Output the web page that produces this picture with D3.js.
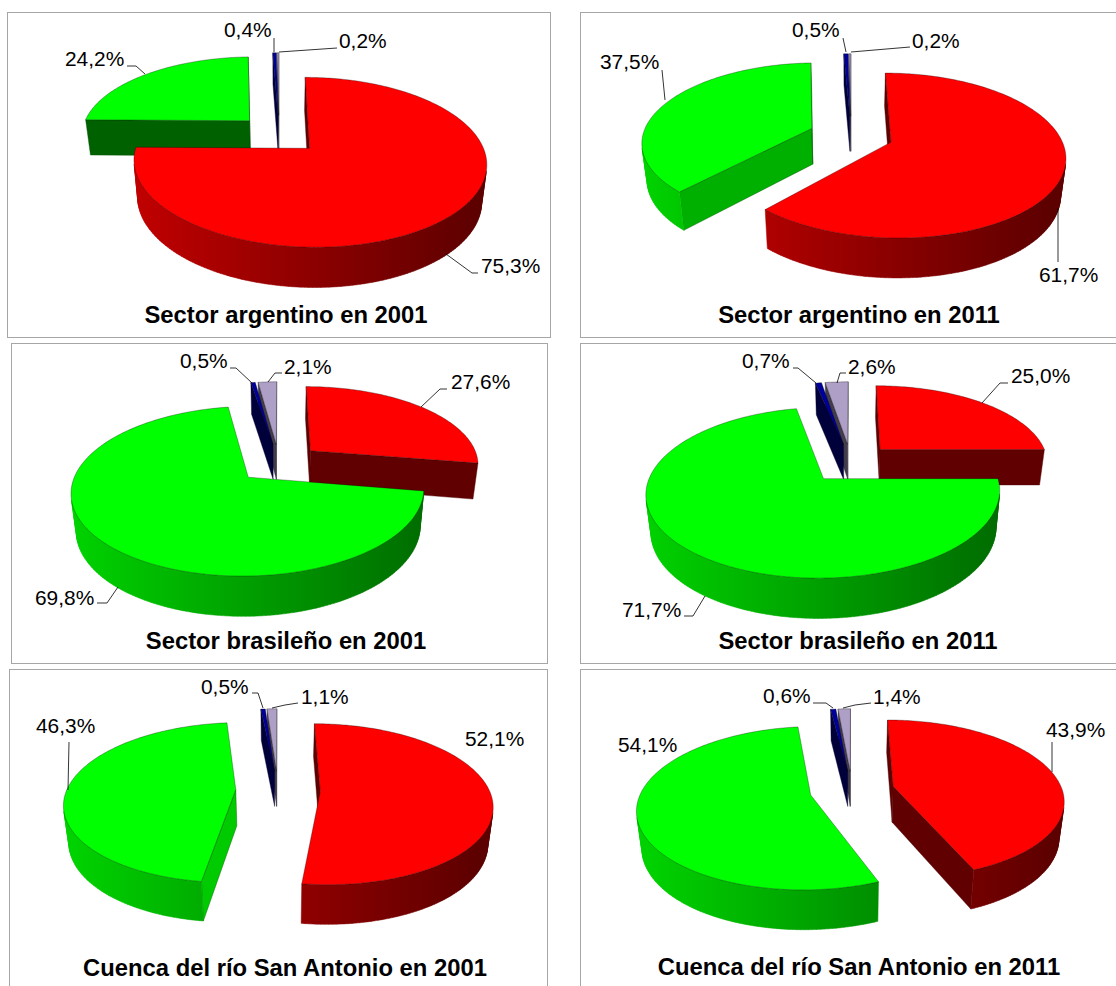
<!DOCTYPE html>
<html lang="es">
<head>
<meta charset="utf-8">
<title>Sectores argentino y brasileño, 2001 y 2011</title>
<script src="https://cdn.jsdelivr.net/npm/d3@7/dist/d3.min.js"></script>
<style>
  html, body { margin: 0; padding: 0; background: #fff; overflow: hidden; }
  text { font-family: "Liberation Sans", Arial, sans-serif; fill: #000; }
</style>
</head>
<body>
<svg id="chart" width="1116" height="986"></svg>
<script>
// Share of each category per territory and year, in percent.
const panelTitles = [
  "Sector argentino en 2001", "Sector argentino en 2011",
  "Sector brasileño en 2001", "Sector brasileño en 2011",
  "Cuenca del río San Antonio en 2001", "Cuenca del río San Antonio en 2011"
];
const redValues      = [75.3, 61.7, 27.6, 25.0, 52.1, 43.9];
const greenValues    = [24.2, 37.5, 69.8, 71.7, 46.3, 54.1];
const blueValues     = [0.4, 0.5, 0.5, 0.7, 0.5, 0.6];
const lavenderValues = [0.2, 0.2, 2.1, 2.6, 1.1, 1.4];
const sliceColors = ["#ff0000", "#00ff00", "#000099", "#ae9fc6"];

// Panel frames [x, y, width, height] and pie centres.
const frames  = [[7,12,543,325],[580,12,560,325],[11,343,536,320],[580,343,560,320],[9,669,538,340],[580,669,560,340]];
const centers = [[279,134],[851,135],[279,463],[851,463],[278,790],[852,790]];
const titleXY = [[286,323],[859,323],[286,649],[858,649],[285,976],[859,975]];

// Label text origin [x, centre y] per slice (red, green, blue, lavender), and its leader line.
const labelXY = [
  [[481,266],[65,59],[224,30],[339,41]],
  [[1039,275],[600,62],[792,30],[912,41]],
  [[451,382],[35,598],[180,361],[284,367]],
  [[1011,376],[622,610],[742,361],[848,367]],
  [[465,739],[36,726],[201,687],[301,697]],
  [[1046,730],[618,745],[763,696],[873,697]]
];
const leaders = [
  [[[478,273],[472,273],[446,254]],[[127,66],[136,66],[145,74]],[[274,38],[274,52]],[[337,48],[279,52]]],
  [[[1058,262],[1058,208]],[[662,70],[665,100]],[[843,38],[846,52]],[[910,47],[851,52]]],
  [[[447,389],[440,389],[421,407]],[[97,603],[107,603],[118,587]],[[230,368],[236,368],[252,383]],[[282,373],[275,373],[268,382]]],
  [[[1008,383],[1000,383],[982,403]],[[684,616],[693,616],[705,596]],[[793,368],[798,368],[816,383]],[[846,373],[840,373],[837,383]]],
  [[],[[69,742],[68,790]],[[252,693],[258,693],[263,708]],[[298,703],[285,705],[272,708]]],
  [[[1052,742],[1052,772]],[],[[813,703],[826,703],[833,708]],[[871,703],[855,705],[843,708]]]
];

// Shared projection of the tilted disc.
const RADIUS_X = 169, RADIUS_Y = 78, PERSPECTIVE = 0.16, DEPTH = 36, FOOT_SCALE = 0.975, EXPLODE = 0.25;

const svg = d3.select("#chart");
const defs = svg.append("defs");
const pie = d3.pie().sort(null).startAngle(0).endAngle(2 * Math.PI);
const line = d3.line();
const percent = d3.formatLocale({ decimal: ",", thousands: ".", grouping: [3], currency: ["", ""] }).format(".1f");
const shadeScale = d3.scaleLinear().domain([0, 1]).range([0.82, 0.36]);

function shade(color, k) {
  const c = d3.rgb(color);
  return d3.rgb(c.r * k, c.g * k, c.b * k).formatHex();
}

// Signed area of a screen polygon; the sign tells which way a wall is facing.
function signedArea(pts) {
  return d3.sum(pts, (q, i) => {
    const n = pts[(i + 1) % pts.length];
    return q[0] * n[1] - n[0] * q[1];
  });
}

panelTitles.forEach((title, p) => {
  const [cx, cy] = centers[p];
  const values = [redValues[p], greenValues[p], blueValues[p], lavenderValues[p]];
  const arcs = pie(values);
  const g = svg.append("g");

  g.append("rect")
    .attr("x", frames[p][0] + 0.5).attr("y", frames[p][1] + 0.5)
    .attr("width", frames[p][2]).attr("height", frames[p][3])
    .attr("fill", "#fff").attr("stroke", "#a6a6a6").attr("stroke-width", 1);

  // One horizontal gradient per colour, spanning the whole pie width.
  sliceColors.forEach((color, i) => {
    const grad = defs.append("linearGradient")
      .attr("id", `wall-${p}-${i}`).attr("gradientUnits", "userSpaceOnUse")
      .attr("x1", cx - RADIUS_X * 1.2).attr("x2", cx + RADIUS_X * 1.2).attr("y1", 0).attr("y2", 0);
    d3.range(0, 1.01, 0.25).forEach(t =>
      grad.append("stop").attr("offset", t).attr("stop-color", shade(color, shadeScale(t))));
  });

  // Slices are painted thin ones first (lavender under blue), then the large ones back to front.
  const slices = arcs.map((a, i) => {
    const mid = (a.startAngle + a.endAngle) / 2;
    const ou = EXPLODE * Math.sin(mid), ov = EXPLODE * Math.cos(mid);
    const project = (theta, r) => {
      const u = ou + r * Math.sin(theta), v = ov + r * Math.cos(theta);
      const w = 1 + PERSPECTIVE * v;
      return { x: cx + RADIUS_X * u / w, y: cy - RADIUS_Y * v / w, v };
    };
    const top = q => [q.x, q.y];
    const foot = q => [cx + (q.x - cx) * FOOT_SCALE, q.y + DEPTH * (1 - 0.1 * q.v)];
    return { a, i, project, top, foot, apexY: project(0, 0).y };
  });
  const order = [
    slices[3], slices[2],
    ...slices.filter(s => s.i < 2).sort((s, t) => d3.ascending(s.apexY, t.apexY))
  ];

  order.forEach(s => {
    const { a, i, project, top, foot } = s;
    const color = sliceColors[i];
    const n = Math.max(2, Math.ceil((a.endAngle - a.startAngle) / 0.02));
    const angles = d3.range(n + 1).map(k => a.startAngle + (a.endAngle - a.startAngle) * k / n);
    const rim = angles.map(t => project(t, 1));
    const apex = project(0, 0);

    // Radial cut faces, drawn only when turned to the viewer; brighter towards the right.
    const faceShade = nx => 0.38 + 0.42 * Math.max(0, nx);
    const startFace = [top(rim[0]), top(apex), foot(apex), foot(rim[0])];
    const endFace = [top(rim[n]), top(apex), foot(apex), foot(rim[n])];
    if (signedArea(startFace) > 0) {
      g.append("path").attr("d", line(startFace) + "Z")
        .attr("fill", shade(color, faceShade(-Math.cos(a.startAngle))))
        .attr("stroke", shade(color, 0.3)).attr("stroke-width", 0.4);
    }
    if (signedArea(endFace) < 0) {
      g.append("path").attr("d", line(endFace) + "Z")
        .attr("fill", shade(color, faceShade(Math.cos(a.endAngle))))
        .attr("stroke", shade(color, 0.3)).attr("stroke-width", 0.4);
    }

    // Outer curved wall as one path of front-facing strips wound the same way.
    const strips = d3.range(n)
      .map(k => [top(rim[k]), top(rim[k + 1]), foot(rim[k + 1]), foot(rim[k])])
      .filter(q => signedArea(q) < 0);
    if (strips.length) {
      g.append("path")
        .attr("d", strips.map(q => line(q) + "Z").join(""))
        .attr("fill", `url(#wall-${p}-${i})`)
        .attr("stroke", `url(#wall-${p}-${i})`).attr("stroke-width", 0.5);
    }

    // Top face with a thin dark outline.
    g.append("path").attr("d", line([top(apex), ...rim.map(top)]) + "Z")
      .attr("fill", color)
      .attr("stroke", "#000").attr("stroke-opacity", 0.5).attr("stroke-width", 0.6)
      .attr("stroke-linejoin", "round");
  });

  // Value labels and their leader lines.
  values.forEach((value, i) => {
    const pts = leaders[p][i];
    if (pts.length) {
      g.append("path").attr("d", line(pts)).attr("fill", "none")
        .attr("stroke", "#000").attr("stroke-width", 0.8);
    }
    g.append("text")
      .attr("x", labelXY[p][i][0]).attr("y", labelXY[p][i][1] + 7)
      .attr("font-size", 20.9)
      .text(percent(value) + "%");
  });

  g.append("text")
    .attr("x", titleXY[p][0]).attr("y", titleXY[p][1])
    .attr("text-anchor", "middle").attr("font-size", 23.8).attr("font-weight", "bold")
    .text(title);
});
</script>
</body>
</html>
